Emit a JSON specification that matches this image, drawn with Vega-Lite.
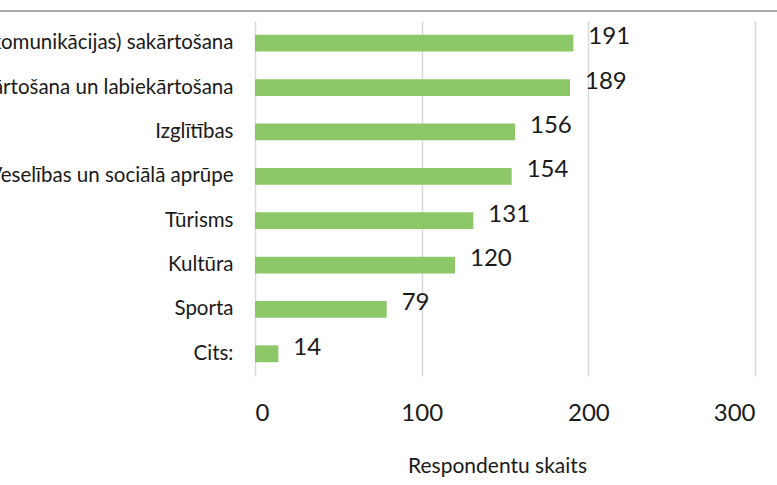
{
  "$schema": "https://vega.github.io/schema/vega-lite/v6.json",
  "autosize": "none",
  "width": 500,
  "height": 355,
  "padding": {"left": 255, "top": 21, "right": 22, "bottom": 109},
  "background": "white",
  "config": {
    "view": {"stroke": null},
    "font": "Lato"
  },
  "data": {
    "values": [
      {"kategorija": "Infrastruktūras (ceļu, komunikācijas) sakārtošana", "skaits": 191},
      {"kategorija": "Teritorijas sakārtošana un labiekārtošana\u00a0", "skaits": 189},
      {"kategorija": "Izglītības", "skaits": 156},
      {"kategorija": "Veselības un sociālā aprūpe", "skaits": 154},
      {"kategorija": "Tūrisms", "skaits": 131},
      {"kategorija": "Kultūra", "skaits": 120},
      {"kategorija": "Sporta", "skaits": 79},
      {"kategorija": "Cits:", "skaits": 14}
    ]
  },
  "encoding": {
    "y": {
      "field": "kategorija",
      "type": "nominal",
      "sort": null,
      "scale": {"paddingInner": 0.62, "paddingOuter": 0.31},
      "axis": {
        "title": null,
        "domain": false,
        "ticks": false,
        "grid": false,
        "labelFont": "Lato",
        "labelFontSize": 20.5,
        "labelColor": "#1a1a1a",
        "labelPadding": 22,
        "labelLimit": 0
      }
    },
    "x": {
      "field": "skaits",
      "type": "quantitative",
      "scale": {"domain": [0, 300], "nice": false},
      "axis": {
        "values": [0, 100, 200, 300],
        "title": "Respondentu skaits",
        "titleFont": "Lato",
        "titleFontSize": 21,
        "titleFontWeight": "normal",
        "titleColor": "#1a1a1a",
        "titlePadding": 30,
        "titleX": 242,
        "domain": false,
        "ticks": false,
        "grid": true,
        "gridColor": "#d9d9d9",
        "gridWidth": 1.5,
        "labelFont": "Lato",
        "labelFontSize": 24,
        "labelColor": "#1a1a1a",
        "labelPadding": 25
      }
    }
  },
  "layer": [
    {
      "mark": {"type": "bar", "color": "#8cc868"}
    },
    {
      "mark": {"type": "text", "align": "left", "baseline": "middle", "dx": 15, "dy": -6, "fontSize": 24, "font": "Lato", "color": "#1a1a1a"},
      "encoding": {"text": {"field": "skaits", "type": "quantitative"}}
    },
    {
      "data": {"values": [{"a": -160, "b": 320}]},
      "mark": {"type": "rule", "clip": false, "color": "#8c8c8c", "strokeWidth": 1.5, "yOffset": -10},
      "encoding": {
        "x": {"field": "a", "type": "quantitative"},
        "x2": {"field": "b"},
        "y": {"value": 0}
      }
    }
  ]
}
